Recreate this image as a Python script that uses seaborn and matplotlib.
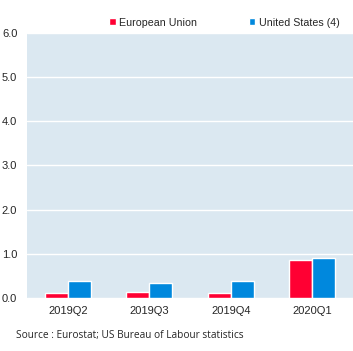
import pandas as pd
import numpy as np
import matplotlib
matplotlib.use('Agg')
import matplotlib.pyplot as plt
import seaborn as sns

quarters = ['2019Q2', '2019Q3', '2019Q4', '2020Q1']
eu_values = [0.12, 0.14, 0.12, 0.86]
us_values = [0.39, 0.34, 0.39, 0.91]
series = ['European Union', 'United States (4)']
yticks = [0.0, 1.0, 2.0, 3.0, 4.0, 5.0, 6.0]

df = pd.DataFrame({
    'quarter': quarters * 2,
    'value': eu_values + us_values,
    'series': [series[0]] * 4 + [series[1]] * 4,
})

sns.set_style('white')
plt.rcParams['font.family'] = ['Liberation Sans', 'DejaVu Sans']

fig = plt.figure(figsize=(3.53, 3.51), dpi=100)
ax = fig.add_axes([0.0765, 0.151, 0.9235, 0.755])
ax.set_facecolor('#dbe8f1')

sns.barplot(data=df, x='quarter', y='value', hue='series',
            palette=['#ff0033', '#0088dd'], width=0.57, gap=0,
            saturation=1, ax=ax, zorder=3)

ax.set_ylim(0, 6)
ax.set_yticks(yticks)
ax.set_yticklabels([f'{v:.1f}' for v in yticks], fontsize=8)
ax.yaxis.grid(True, color='white', linewidth=1, zorder=1)
ax.set_axisbelow(True)
ax.set_xlim(-0.5, 3.5)
ax.tick_params(axis='x', labelsize=8, length=0, pad=6)
ax.tick_params(axis='y', length=0, pad=7)
ax.set_xlabel('')
ax.set_ylabel('')
for s in ax.spines.values():
    s.set_visible(False)

handles, labels = ax.get_legend_handles_labels()
ax.legend(handles, labels, loc='lower center', bbox_to_anchor=(0.605, 1.0),
          ncol=2, frameon=False, fontsize=7.7, handlelength=0.65,
          handleheight=0.65, handletextpad=0.3, columnspacing=4.8,
          borderaxespad=0.1)

fig.text(0.045, 0.036, 'Source : Eurostat; US Bureau of Labour statistics',
         fontsize=7.3, family=['Open Sans', 'DejaVu Sans'])

fig.savefig('out.png', dpi=100)
